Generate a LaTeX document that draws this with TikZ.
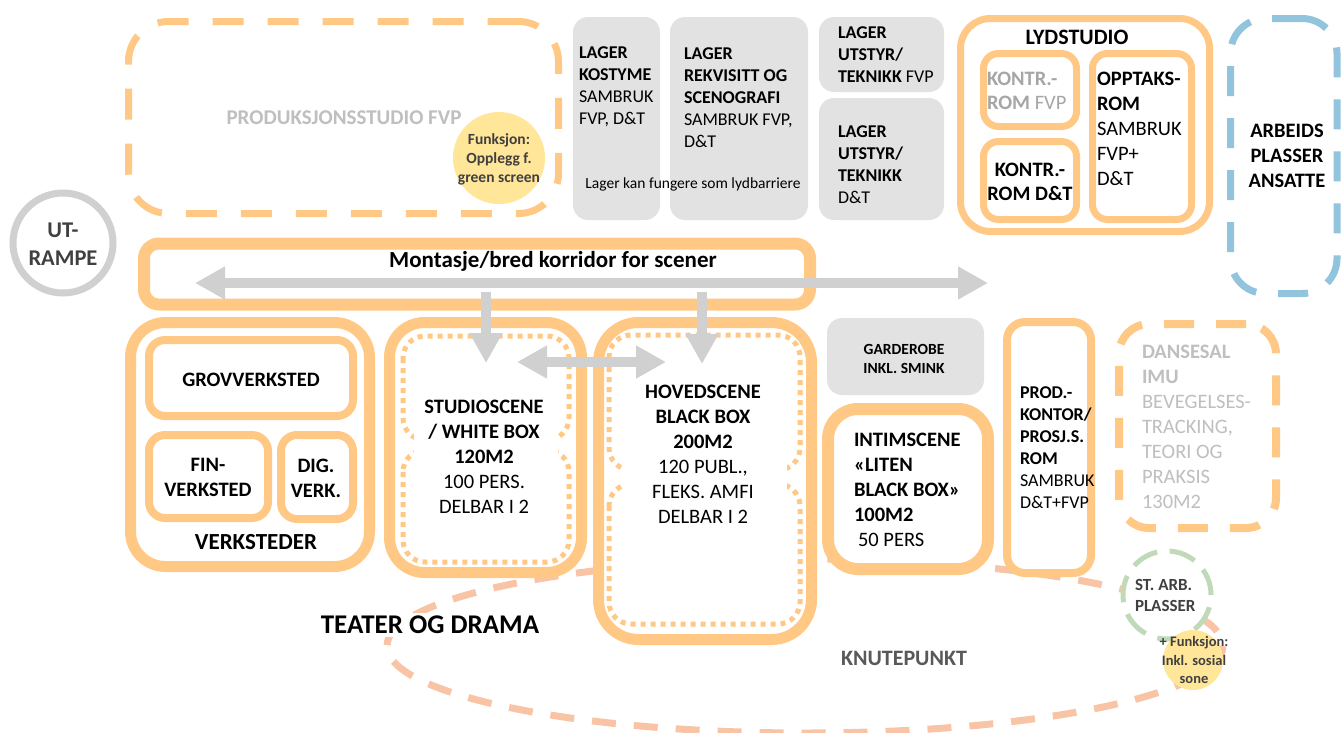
\documentclass[tikz,border=0pt]{standalone}
\usepackage{fontspec}
\setmainfont{Carlito}
\usetikzlibrary{arrows.meta}
\definecolor{org}{HTML}{FFC985}
\definecolor{salm}{HTML}{F9C4A6}
\definecolor{lgray}{HTML}{E2E2E2}
\definecolor{agray}{HTML}{D0D0D0}
\definecolor{bluel}{HTML}{93C4DD}
\definecolor{greenl}{HTML}{C0DAB9}
\definecolor{yell}{HTML}{FFE699}
\definecolor{dtext}{HTML}{404040}
\definecolor{gtext}{HTML}{BFBFBF}
\definecolor{g2text}{HTML}{A6A6A6}
\definecolor{ktext}{HTML}{595959}
\newcommand\fs[2]{\fontsize{#1}{#2}\selectfont}
\begin{document}
\begin{tikzpicture}[x=1pt,y=-1pt,
  obox/.style={draw=org,fill=white,rectangle,inner sep=0,outer sep=0},
  gbox/.style={fill=lgray,rectangle,inner sep=0,outer sep=0,rounded corners=15},
  dotbox/.style={draw=org,line width=5,dash pattern=on 5pt off 5pt,rounded corners=22},
  garrow/.style={draw=agray,line width=10.5,-{Triangle[length=30pt,width=31pt]}},
  garrow2/.style={draw=agray,line width=10.5,{Triangle[length=30pt,width=31pt]}-{Triangle[length=30pt,width=31pt]}},
  txt/.style={inner sep=0,outer sep=0},
]
\useasboundingbox (0,0) rectangle (1341,732);
% knutepunkt ellipse
\draw[salm,line width=7,dash pattern=on 24pt off 18pt] (805,646) ellipse [x radius=418,y radius=87];

% top row
\node[obox,draw=org,line width=7,dash pattern=on 31pt off 24pt,rounded corners=40,minimum width=430,minimum height=192] (pstud) at (343.5,117.5) {};
\node[gbox,minimum width=87,minimum height=203] (lk) at (616.5,118.5) {};
\node[gbox,minimum width=138,minimum height=203] (lr) at (739,118.5) {};
\node[gbox,minimum width=125,minimum height=75] (luf) at (881.5,54.5) {};
\node[gbox,minimum width=125,minimum height=122] (lud) at (881.5,159) {};
\node[obox,line width=7,rounded corners=30,minimum width=249,minimum height=213] (lyd) at (1085,125) {};
\node[obox,line width=7,rounded corners=15,minimum width=93,minimum height=73] (kfvp) at (1030,90) {};
\node[obox,line width=7,rounded corners=15,minimum width=93,minimum height=78] (kdt) at (1030,180.5) {};
\node[obox,line width=7,rounded corners=15,minimum width=99,minimum height=166] (opp) at (1142,136.5) {};
\node[obox,draw=bluel,line width=7,dash pattern=on 30pt off 22pt,rounded corners=35,minimum width=106.5,minimum height=275] (arb) at (1283.75,156) {};

% corridor
\node[obox,line width=12,rounded corners=15,minimum width=666,minimum height=61] (corr) at (477,274) {};

% bottom row
\node[obox,line width=11,rounded corners=35,minimum width=239,minimum height=244] (verk) at (250,444.5) {};
\node[obox,line width=8,rounded corners=16,minimum width=204,minimum height=76] (grov) at (251,378) {};
\node[obox,line width=8,rounded corners=16,minimum width=119,minimum height=83] (fin) at (208.5,476.5) {};
\node[obox,line width=8,rounded corners=16,minimum width=72,minimum height=84] (dig) at (317,477) {};
\node[obox,line width=11,rounded corners=35,minimum width=192,minimum height=250] (stud) at (485.5,447.5) {};
\node[obox,line width=11,rounded corners=40,minimum width=213,minimum height=317] (hov) at (705,481) {};
\node[gbox,minimum width=157,minimum height=77] (gard) at (905.5,356.5) {};
\node[obox,line width=12,rounded corners=30,minimum width=160,minimum height=160] (intim) at (908,489) {};
\node[obox,line width=8,rounded corners=18,minimum width=84,minimum height=251] (prod) at (1049,447.5) {};
\node[obox,line width=8,dash pattern=on 30pt off 22pt,rounded corners=30,minimum width=157,minimum height=204] (dans) at (1197.5,426) {};

% dotted inner halves
\draw[dotbox] (403,336) rectangle (569,440);
\draw[dotbox] (403,450) rectangle (569,562);
\fill[white] (414,428) rectangle (558,462);
\draw[dotbox] (609,335) rectangle (800,470);
\draw[dotbox] (609,484) rectangle (800,624);
\fill[white] (622,458) rectangle (787,496);

% arrows
\coordinate (hl) at (195,283);
\coordinate (hr) at (988,283);
\coordinate (d1s) at (486,292);
\coordinate (d1e) at (486,363);
\coordinate (d2s) at (702,292);
\coordinate (d2e) at (702,364);
\coordinate (ml) at (517,362);
\coordinate (mr) at (666,362);
\draw[garrow2] (hl) -- (hr);
\draw[garrow] (d1s) -- (d1e);
\draw[garrow] (d2s) -- (d2e);
\draw[garrow2] (ml) -- (mr);

% texts top
\node[txt,text=gtext,font=\fs{21}{25}\bfseries] (tpstud) at (344,118) {PRODUKSJONSSTUDIO FVP};
\node[txt,anchor=west,align=left,font=\fs{18}{22}] (tlk) at (579,87) {\textbf{LAGER}\\\textbf{KOSTYME}\\SAMBRUK\\FVP, D\&T};
\node[txt,anchor=west,align=left,font=\fs{18}{22}] (tlr) at (684,97.5) {\textbf{LAGER}\\\textbf{REKVISITT OG}\\\textbf{SCENOGRAFI}\\SAMBRUK FVP,\\D\&T};
\node[txt,font=\fs{15.5}{19}] (tbar) at (693,184) {Lager kan fungere som lydbarriere};
\node[txt,anchor=west,align=left,font=\fs{18}{22}] (tluf) at (838,55) {\textbf{LAGER}\\\textbf{UTSTYR/}\\\textbf{TEKNIKK} FVP};
\node[txt,anchor=west,align=left,font=\fs{18}{22}] (tlud) at (838,165) {\textbf{LAGER}\\\textbf{UTSTYR/}\\\textbf{TEKNIKK}\\D\&T};
\node[txt,font=\fs{22}{26}\bfseries] (tlyd) at (1077,37) {LYDSTUDIO};
\node[txt,anchor=west,align=left,text=g2text,font=\fs{20.5}{24}] (tkfvp) at (987,91) {\textbf{KONTR.-}\\\textbf{ROM} FVP};
\node[txt,align=center,font=\fs{20.5}{24}\bfseries] (tkdt) at (1030,182) {KONTR.-\\ROM D\&T};
\node[txt,anchor=west,align=left,font=\fs{20.5}{25}] (topp) at (1097,129) {\textbf{OPPTAKS-}\\\textbf{ROM}\\SAMBRUK\\FVP+\\D\&T};
\node[txt,align=center,font=\fs{20.5}{25}\bfseries] (tarb) at (1287,156) {ARBEIDS\\PLASSER\\ANSATTE};
\node[txt,font=\fs{23}{27}\bfseries] (tcorr) at (553,261) {Montasje/bred korridor for scener};

% texts bottom
\node[txt,font=\fs{23}{27}\bfseries] (tverk) at (256,542) {VERKSTEDER};
\node[txt,font=\fs{20.5}{25}\bfseries] (tgrov) at (251,380) {GROVVERKSTED};
\node[txt,align=center,font=\fs{20.5}{25}\bfseries] (tfin) at (208,477.5) {FIN-\\VERKSTED};
\node[txt,align=center,font=\fs{20.5}{25}\bfseries] (tdig) at (316,478) {DIG.\\VERK.};
\node[txt,align=center,font=\fs{20.5}{25}] (tstud) at (484,457) {\textbf{STUDIOSCENE}\\\textbf{/ WHITE BOX}\\\textbf{120M2}\\100 PERS.\\DELBAR I 2};
\node[txt,align=center,font=\fs{20.5}{25}] (thov) at (703,454.5) {\textbf{HOVEDSCENE}\\\textbf{BLACK BOX}\\\textbf{200M2}\\120 PUBL.,\\FLEKS. AMFI\\DELBAR I 2};
\node[txt,align=center,font=\fs{15.5}{19}\bfseries] (tgard) at (904,359) {GARDEROBE\\INKL. SMINK};
\node[txt,anchor=west,align=left,font=\fs{20.5}{25}] (tintim) at (854,490) {\textbf{INTIMSCENE}\\\textbf{«LITEN}\\\textbf{BLACK BOX»}\\\textbf{100M2}\\\hspace*{4pt}50 PERS};
\node[txt,anchor=west,align=left,font=\fs{18}{22}] (tprod) at (1020,448) {\textbf{PROD.-}\\\textbf{KONTOR/}\\\textbf{PROSJ.S.}\\\textbf{ROM}\\SAMBRUK\\D\&T+FVP};
\node[txt,anchor=west,align=left,text=gtext,font=\fs{20.5}{25}] (tdans) at (1142,427) {\textbf{DANSESAL}\\\textbf{IMU}\\BEVEGELSES-\\TRACKING,\\TEORI OG\\PRAKSIS\\130M2};
\node[txt,fill=white,inner sep=3pt,font=\fs{27}{30}\bfseries] (tteat) at (430,625) {TEATER OG DRAMA};
\node[txt,text=ktext,font=\fs{22}{26}\bfseries] (tknut) at (904,658) {KNUTEPUNKT};

% circles
\node[circle,draw=agray,line width=7,minimum size=100,inner sep=0] (ramp) at (63,243) {};
\node[txt,align=center,text=dtext,font=\fs{22.5}{28}\bfseries] (tramp) at (63,244) {UT-\\RAMPE};
\node[circle,fill=yell,minimum size=92,inner sep=0] (funk1) at (499,158) {};
\node[txt,align=center,text=dtext,font=\fs{15.5}{19}\bfseries] (tfunk1) at (499,159) {Funksjon:\\Opplegg f.\\green screen};
\node[circle,draw=greenl,fill=white,line width=5,dash pattern=on 27pt off 12.5pt,minimum size=88,inner sep=0] (starb) at (1167,595) {};
\node[txt,anchor=west,align=left,text=dtext,font=\fs{17}{21}\bfseries] (tstarb) at (1135,595.5) {ST. ARB.\\PLASSER};
\node[circle,fill=yell,minimum size=60,inner sep=0] (funk2) at (1193,660) {};
\node[txt,align=center,text=dtext,font=\fs{14.5}{18.5}\bfseries] (tfunk2) at (1194,660) {+ Funksjon:\\Inkl. sosial\\sone};
\end{tikzpicture}
\end{document}
